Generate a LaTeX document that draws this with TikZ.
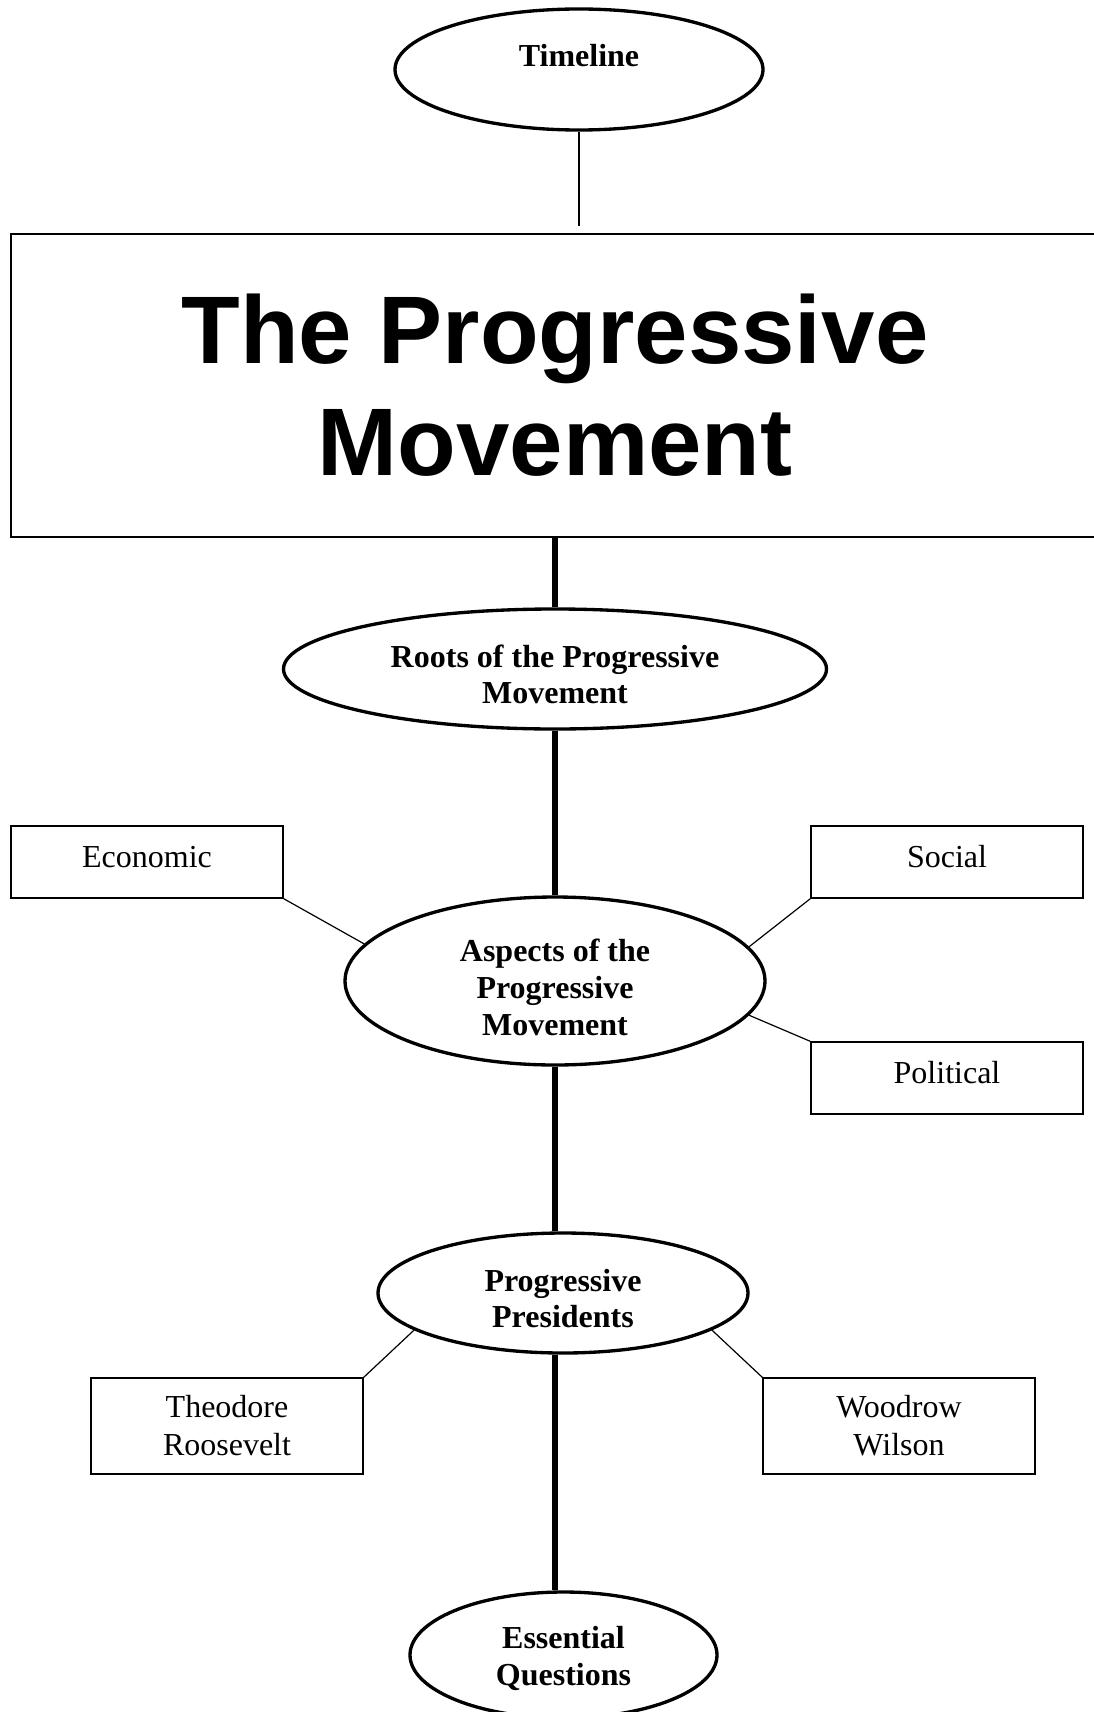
\documentclass[tikz,border=0pt]{standalone}
\usepackage{fontspec}
\setmainfont{Liberation Serif}
\newfontfamily\headsans{Liberation Sans}
\usetikzlibrary{shapes.geometric}
\tikzset{
  pmoval/.style={draw,ellipse,line width=2.5pt,inner sep=0pt,align=center,
      text height=52.5pt,font=\bfseries\fontsize{24}{27.5}\selectfont},
  pmbox/.style={draw,rectangle,line width=1pt,inner sep=0pt,align=center,
      minimum width=204pt,font=\fontsize{24}{28.5}\selectfont},
  pmone/.style={pmbox,minimum height=54pt,text depth=8pt},
  pmtwo/.style={pmbox,minimum height=72pt},
  pmtitle/.style={draw,rectangle,line width=1.5pt,inner sep=0pt,align=center,
      minimum width=816pt,minimum height=227.25pt,
      font=\headsans\bfseries\fontsize{72}{84}\selectfont},
  pmtrunk/.style={line width=4.25pt},
  pmtwig/.style={line width=0.9pt},
}

\begin{document}
\begin{tikzpicture}[x=0.75pt,y=-0.75pt]
  \useasboundingbox (0,0) rectangle (1094,1712);
  \clip (0,0) rectangle (1094,1712);

  \node[pmoval,minimum width=276pt,minimum height=90.75pt,text height=16pt,
    text depth=20pt] (timeline) at (579,69.5) {Timeline};
  \coordinate (tlend) at (579,226);
  \node[pmtitle] (title) at (555,385.5) {The Progressive\\Movement};

  \node[pmoval,minimum width=407.25pt,minimum height=90pt]
    (roots) at (555,669) {Roots of the Progressive\\Movement};
  \node[pmoval,minimum width=315pt,minimum height=126pt,text height=81.5pt]
    (aspects) at (555,981) {Aspects of the\\Progressive\\Movement};
  \node[pmoval,minimum width=277.5pt,minimum height=90pt]
    (pres) at (563,1293) {Progressive\\Presidents};
  \node[pmoval,minimum width=230.25pt,minimum height=94.5pt,text height=49.5pt]
    (essq) at (563.5,1655) {Essential\\Questions};

  \node[pmone] (econ) at (147,862) {Economic};
  \node[pmone] (social) at (947,862) {Social};
  \node[pmone] (polit) at (947,1078) {Political};
  \node[pmtwo] (roose) at (227,1426) {Theodore\\Roosevelt};
  \node[pmtwo] (wilson) at (899,1426) {Woodrow\\Wilson};

  \draw[pmtwig] (timeline.south) -- (tlend);
  \draw[pmtrunk] (title.south) -- (roots.north);
  \draw[pmtrunk] (roots.south) -- (aspects.north);
  \draw[pmtrunk] (aspects.south) -- (aspects.south |- pres.north);
  \draw[pmtrunk] (aspects.south |- pres.south) -- (aspects.south |- essq.north);

  \draw[pmtwig] (econ.south east) -- (aspects.169.4);
  \draw[pmtwig] (social.south west) -- (aspects.10.6);
  \draw[pmtwig] (polit.north west) -- (aspects.-10.6);
  \draw[pmtwig] (roose.north east) -- (pres.194.3);
  \draw[pmtwig] (wilson.north west) -- (pres.-14.2);
\end{tikzpicture}
\end{document}
